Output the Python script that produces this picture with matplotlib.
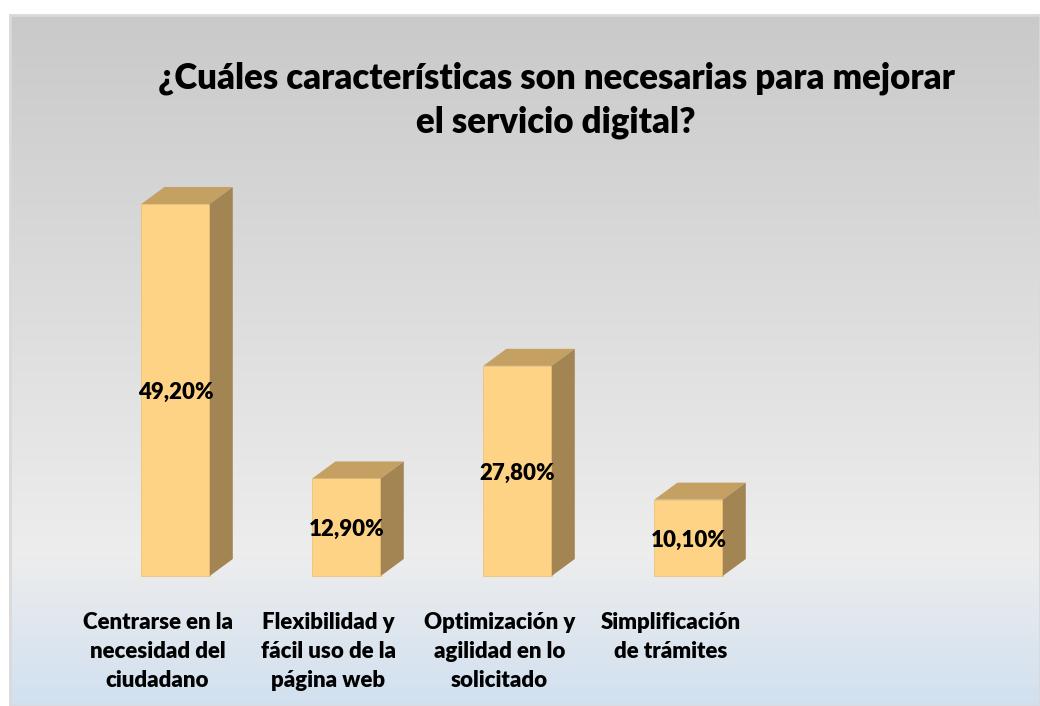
import numpy as np
import matplotlib
matplotlib.use("Agg")
import matplotlib.pyplot as plt
from matplotlib.colors import LinearSegmentedColormap

plt.rcParams['font.family'] = ['Lato', 'DejaVu Sans']

# data
categories = ["Centrarse en la\nnecesidad del\nciudadano",
              "Flexibilidad y\nfácil uso de la\npágina web",
              "Optimización y\nagilidad en lo\nsolicitado",
              "Simplificación\nde trámites"]
values = [49.2, 12.9, 27.8, 10.1]
title = "¿Cuáles características son necesarias para mejorar\nel servicio digital?"

# styles
front_col = "#FFD385"
top_col = "#C4A063"
side_col = "#A38553"
bar_w = 0.40
dx, dy = 0.135, 2.25   # 3d depth
wt = "heavy"

fig = plt.figure(figsize=(10.4, 7.06), dpi=100)

# background panel with gradient
bg = fig.add_axes([10 / 1040, 0, 1030 / 1040, 691 / 706])
cmap = LinearSegmentedColormap.from_list(
    "bg", [(0.0, (0.79, 0.79, 0.79)), (0.78, (0.93, 0.93, 0.93)), (1.0, (0.82, 0.88, 0.94))])
grad = np.linspace(0, 1, 256).reshape(-1, 1)
bg.imshow(grad, aspect="auto", cmap=cmap, extent=[0, 1, 0, 1], origin="upper")
bg.set_xlim(0, 1)
bg.set_ylim(0, 1)
bg.set_xticks([])
bg.set_yticks([])
for s in bg.spines.values():
    s.set_color("#D9D9D9")
    s.set_linewidth(2)

ax = fig.add_axes([0, 0, 1, 1])
ax.patch.set_alpha(0)
ax.set_xlim(-175.5 / 171, (1040 - 175.5) / 171)
ax.set_ylim(-130 / 7.56, 576 / 7.56)
ax.axis("off")

x = np.arange(len(values))
ax.bar(x, values, width=bar_w, color=front_col, edgecolor="#E8BE72", linewidth=0.5, zorder=3)
for xi, v in zip(x, values):
    l, r = xi - bar_w / 2, xi + bar_w / 2
    ax.fill([l, r, r + dx, l + dx], [v, v, v + dy, v + dy], color=top_col, zorder=3, lw=0)
    ax.fill([r, r + dx, r + dx, r], [0, dy, v + dy, v], color=side_col, zorder=3, lw=0)
    ax.text(xi, v / 2 - 0.35, f"{v:.2f}%".replace(".", ","), ha="center", va="center",
            fontsize=16, fontweight=wt, zorder=4)

for xi, c in zip(x, categories):
    ax.text(xi - 0.105, -4.7, c, ha="center", va="top", fontsize=16,
            fontweight=wt, linespacing=1.47)

fig.text(556 / 1040, 1 - 100 / 706, title, ha="center", va="center",
         fontsize=25, fontweight=wt, linespacing=1.4)

fig.savefig("out.png", dpi=100)
